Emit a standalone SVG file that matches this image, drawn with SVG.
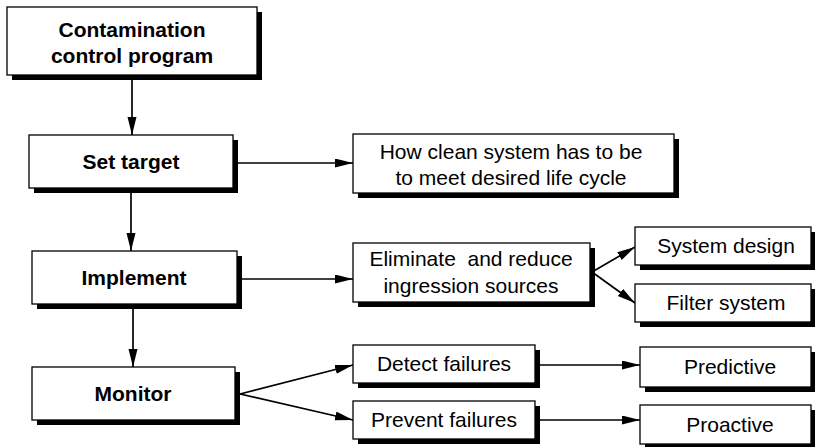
<svg xmlns="http://www.w3.org/2000/svg" width="815" height="447" viewBox="0 0 815 447">
  <defs>
    <marker id="arrow" markerUnits="userSpaceOnUse" markerWidth="19" markerHeight="10" refX="18" refY="4.5" orient="auto">
      <path d="M0,0 L18,4.5 L0,9 Z" fill="#000"/>
    </marker>
  </defs>
  <style>
    .box { fill: #fff; stroke: #000; stroke-width: 1.3; }
    .shadow { fill: #000; }
    .t { font-family: "Liberation Sans", Arial, Helvetica, sans-serif; font-size: 21px; fill: #000; text-anchor: middle; }
    .b { font-weight: bold; }
    .link { stroke: #000; stroke-width: 1.7; fill: none; marker-end: url(#arrow); }
  </style>
  <rect width="815" height="447" fill="#fff"/>

  <g id="connectors">
    <line class="link" x1="132" y1="80" x2="132" y2="135"/>
    <line class="link" x1="131" y1="193" x2="131" y2="251"/>
    <line class="link" x1="133" y1="309" x2="133" y2="367"/>
    <line class="link" x1="238" y1="163" x2="353" y2="163"/>
    <line class="link" x1="242" y1="279" x2="353" y2="279"/>
    <line class="link" x1="592" y1="272" x2="635" y2="247"/>
    <line class="link" x1="592" y1="272" x2="635" y2="303"/>
    <line class="link" x1="240" y1="394" x2="353" y2="365"/>
    <line class="link" x1="240" y1="394" x2="353" y2="420"/>
    <line class="link" x1="538" y1="365" x2="640" y2="365"/>
    <line class="link" x1="538" y1="420" x2="640" y2="420"/>
  </g>

  <g id="program">
    <rect class="shadow" x="12" y="12" width="250" height="68"/>
    <rect class="box" x="7" y="7" width="250" height="68"/>
    <text class="t b" x="132" y="37">Contamination</text>
    <text class="t b" x="132" y="63">control program</text>
  </g>

  <g id="set-target">
    <rect class="shadow" x="34" y="140" width="204" height="53"/>
    <rect class="box" x="29" y="135" width="204" height="53"/>
    <text class="t b" x="131" y="169">Set target</text>
  </g>

  <g id="how-clean">
    <rect class="shadow" x="358" y="139" width="321" height="59"/>
    <rect class="box" x="353" y="134" width="321" height="59"/>
    <text class="t" x="511" y="159">How clean system has to be</text>
    <text class="t" x="511" y="185">to meet desired life cycle</text>
  </g>

  <g id="implement">
    <rect class="shadow" x="37" y="256" width="205" height="53"/>
    <rect class="box" x="32" y="251" width="205" height="53"/>
    <text class="t b" x="134" y="285">Implement</text>
  </g>

  <g id="eliminate">
    <rect class="shadow" x="358" y="248" width="237" height="59"/>
    <rect class="box" x="353" y="243" width="237" height="59"/>
    <text class="t" x="471" y="266" xml:space="preserve">Eliminate  and reduce</text>
    <text class="t" x="471" y="293">ingression sources</text>
  </g>

  <g id="system-design">
    <rect class="shadow" x="640" y="232" width="176" height="38"/>
    <rect class="box" x="635" y="227" width="176" height="38"/>
    <text class="t" x="726" y="253">System design</text>
  </g>

  <g id="filter-system">
    <rect class="shadow" x="640" y="289" width="176" height="38"/>
    <rect class="box" x="635" y="284" width="176" height="38"/>
    <text class="t" x="726" y="310">Filter system</text>
  </g>

  <g id="monitor">
    <rect class="shadow" x="37" y="372" width="203" height="53"/>
    <rect class="box" x="32" y="367" width="203" height="53"/>
    <text class="t b" x="133" y="401">Monitor</text>
  </g>

  <g id="detect">
    <rect class="shadow" x="358" y="350" width="182" height="38"/>
    <rect class="box" x="353" y="345" width="182" height="38"/>
    <text class="t" x="444" y="371">Detect failures</text>
  </g>

  <g id="prevent">
    <rect class="shadow" x="358" y="406" width="182" height="38"/>
    <rect class="box" x="353" y="401" width="182" height="38"/>
    <text class="t" x="444" y="427">Prevent failures</text>
  </g>

  <g id="predictive">
    <rect class="shadow" x="645" y="352" width="171" height="40"/>
    <rect class="box" x="640" y="347" width="171" height="40"/>
    <text class="t" x="730" y="374">Predictive</text>
  </g>

  <g id="proactive">
    <rect class="shadow" x="645" y="410" width="171" height="39"/>
    <rect class="box" x="640" y="405" width="171" height="39"/>
    <text class="t" x="730" y="432">Proactive</text>
  </g>
</svg>
